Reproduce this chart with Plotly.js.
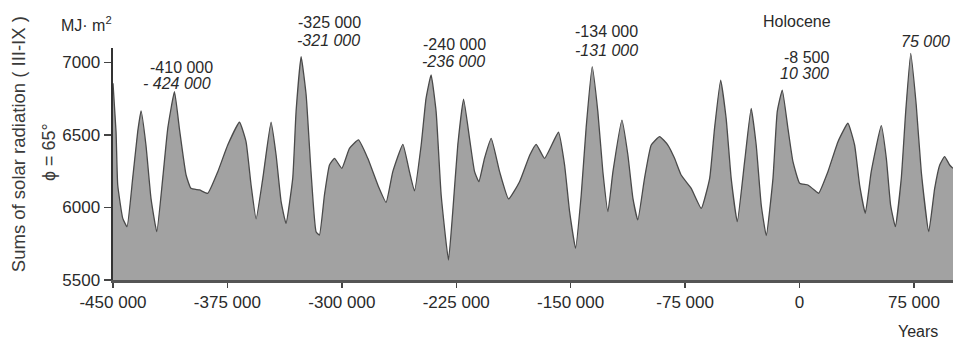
<!DOCTYPE html>
<html>
<head>
<meta charset="utf-8">
<script src="https://cdn.plot.ly/plotly-3.0.1.min.js"></script>
<style>
  html, body { margin: 0; padding: 0; background: #ffffff; }
  #chart { width: 957px; height: 340px; }
</style>
</head>
<body>
<div id="chart"></div>
<script>
// Years (negative = before present) and summed solar radiation, MJ·m², III-IX, 65°N
const years = [-450000, -448000, -446900, -443600, -440800, -437100, -433800, -431600, -428400, -425100,
  -421300, -417400, -414100, -409700, -406500, -402100, -398900, -393300, -387900, -381300,
  -374800, -367100, -362800, -359500, -356200, -351800, -346400, -343100, -339800, -336600,
  -332200, -330000, -326700, -323400, -320200, -316900, -314700, -311400, -308100, -304800,
  -300000, -295000, -289100, -283000, -276400, -271000, -266600, -260000, -255700, -252400,
  -248000, -244800, -241500, -238200, -234900, -230100, -227300, -224000, -220200, -216300,
  -213000, -210200, -206500, -202100, -196600, -190700, -183500, -176800, -172600, -167100,
  -158000, -154000, -150700, -146800, -143100, -139900, -135900, -132200, -128900, -125600,
  -122300, -116400, -112500, -109200, -106000, -101600, -97200, -91700, -86300, -81900,
  -77600, -71000, -64400, -58900, -55700, -51700, -48100, -44800, -40800, -36000,
  -31700, -28400, -25100, -21800, -17400, -14600, -11300, -7600, -4300, 100,
  5500, 11000, 12500, 18600, 25200, 31700, 36100, 39400, 43100, 47000,
  53600, 56900, 59700, 62800, 66700, 69600, 72900, 76500, 79800, 84700,
  88600, 91900, 95100, 98400, 100600];
const radiation = [6857, 6523, 6155, 5925, 5868, 6201, 6523, 6666, 6431, 6063,
  5833, 6201, 6546, 6799, 6546, 6224, 6132, 6121, 6098, 6247,
  6431, 6588, 6454, 6155, 5921, 6201, 6588, 6362, 6040, 5891,
  6201, 6661, 7040, 6776, 6247, 5833, 5810, 6086, 6293, 6339,
  6270, 6408, 6466, 6339, 6155, 6036, 6247, 6436, 6247, 6114,
  6431, 6753, 6914, 6661, 6086, 5638, 5971, 6431, 6748, 6477,
  6247, 6178, 6339, 6477, 6247, 6059, 6178, 6362, 6436, 6339,
  6519, 6293, 5971, 5719, 6086, 6546, 6971, 6661, 6247, 5971,
  6247, 6603, 6362, 6063, 5914, 6201, 6431, 6489, 6431, 6339,
  6224, 6132, 5994, 6201, 6546, 6879, 6615, 6201, 5902, 6316,
  6684, 6431, 6017, 5806, 6201, 6661, 6810, 6546, 6316, 6167,
  6155, 6109, 6098, 6247, 6454, 6581, 6431, 6155, 5960, 6247,
  6564, 6339, 6017, 5868, 6201, 6661, 7063, 6707, 6247, 5833,
  6132, 6293, 6351, 6293, 6270];

const xTickVals = [-450000, -375000, -300000, -225000, -150000, -75000, 0, 75000];
const xTickText = ['-450 000', '-375 000', '-300 000', '-225 000', '-150 000', '-75 000', '0', '75 000'];
const yTickVals = [5500, 6000, 6500, 7000];
const yTickText = ['5500', '6000', '6500', '7000'];

// Peak labels: upright line, italic line
const peakLabels = [
  ['-410 000', 0.081, 0.918, false],
  ['- 424 000', 0.076, 0.845, true],
  ['-325 000', 0.258, 1.112, false],
  ['-321 000', 0.256, 1.034, true],
  ['-240 000', 0.407, 1.017, false],
  ['-236 000', 0.405, 0.940, true],
  ['-134 000', 0.587, 1.069, false],
  ['-131 000', 0.587, 0.991, true],
  ['Holocene', 0.814, 1.116, false],
  ['-8 500', 0.825, 0.961, false],
  ['10 300', 0.823, 0.888, true],
  ['75 000', 0.967, 1.026, true]
];

const FONT = 'Liberation Sans, Arial, Helvetica, sans-serif';
const TXT = '#2a2a2a';

const annotations = peakLabels.map(p => ({
  text: p[3] ? '<i>' + p[0] + '</i>' : p[0],
  xref: 'paper', yref: 'paper', x: p[1], y: p[2],
  xanchor: 'center', yanchor: 'middle', showarrow: false,
  font: {family: FONT, size: 16, color: TXT}
}));
annotations.push(
  {text: 'MJ· m<sup>2</sup>', xref: 'paper', yref: 'paper', x: -0.031, y: 1.103,
   xanchor: 'center', yanchor: 'middle', showarrow: false, font: {family: FONT, size: 16, color: TXT}},
  {text: 'Years', xref: 'paper', yref: 'paper', x: 0.958, y: -0.220,
   xanchor: 'center', yanchor: 'middle', showarrow: false, font: {family: FONT, size: 16, color: TXT}},
  {text: 'Sums of solar radiation ( III-IX )', xref: 'paper', yref: 'paper', x: -0.113, y: 0.586,
   xanchor: 'center', yanchor: 'middle', textangle: -90, showarrow: false, font: {family: FONT, size: 18.5, color: '#3a3a3a'}},
  {text: 'ϕ = 65°', xref: 'paper', yref: 'paper', x: -0.076, y: 0.552,
   xanchor: 'center', yanchor: 'middle', textangle: -90, showarrow: false, font: {family: FONT, size: 18, color: '#3a3a3a'}}
);

const trace = {
  x: years, y: radiation, type: 'scatter', mode: 'lines',
  fill: 'tozeroy', fillcolor: '#a2a2a2',
  line: {color: '#4a4a4a', width: 1.3, shape: 'spline', smoothing: 0.4},
  hoverinfo: 'skip'
};

const layout = {
  width: 957, height: 340,
  margin: {l: 113, r: 4, t: 48, b: 60},
  paper_bgcolor: '#ffffff', plot_bgcolor: '#ffffff',
  showlegend: false,
  font: {family: FONT, size: 16, color: TXT},
  xaxis: {
    range: [-450000, 100600], tickvals: xTickVals, ticktext: xTickText,
    ticks: 'outside', ticklen: 5, tickwidth: 1.5, tickcolor: '#444',
    showline: true, linecolor: '#555', linewidth: 2.5,
    showgrid: false, zeroline: false,
    tickfont: {family: FONT, size: 17, color: TXT}
  },
  yaxis: {
    range: [5500, 7100], tickvals: yTickVals, ticktext: yTickText,
    ticks: 'outside', ticklen: 7, tickwidth: 1.5, tickcolor: '#444',
    showline: true, linecolor: '#333', linewidth: 2.5,
    showgrid: false, zeroline: false,
    tickfont: {family: FONT, size: 17, color: TXT}
  },
  annotations: annotations
};

Plotly.newPlot('chart', [trace], layout, {staticPlot: true, displayModeBar: false});
</script>
</body>
</html>
